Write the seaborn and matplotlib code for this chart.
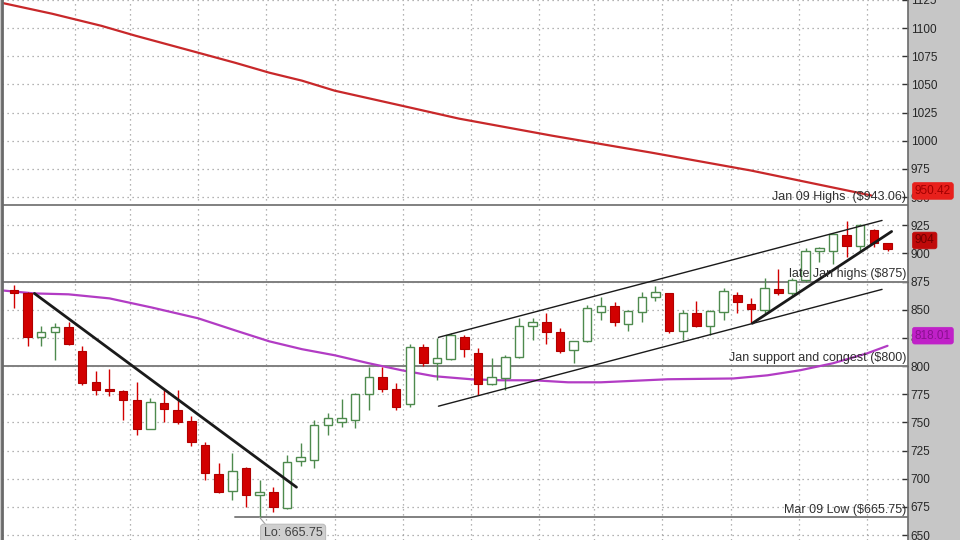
import numpy as np
import pandas as pd
import matplotlib
matplotlib.use("Agg")
import matplotlib.pyplot as plt
import seaborn as sns

# daily candles
opens = [867.2, 864.5, 825.5, 830, 834.5, 813, 785.5, 779.5, 777.5, 769.5,
         744, 767, 761, 751, 730, 704, 689, 709.5, 685.5, 688,
         674, 715.5, 716.5, 747.5, 750, 752.5, 775, 790, 779.5, 766,
         816.5, 802.5, 806, 825.5, 812, 784, 789, 808, 835.5, 839,
         830, 814, 822, 848, 853, 837, 848, 861, 864.5, 831,
         847, 835.5, 848, 863, 855, 849.5, 868, 864.5, 876, 902,
         902.5, 916, 907, 920.5, 909]
highs = [871.6, 866, 836, 838, 839.5, 817.5, 796, 797, 779, 785.5,
         772, 778.5, 778.5, 755.5, 732.5, 714, 722.5, 710, 699, 692.5,
         721, 731.5, 752, 758, 771, 776, 799, 799, 785, 820,
         819.5, 824.5, 829, 827.5, 816, 807, 809.5, 842.5, 842.5, 847.5,
         833.5, 822, 854, 861, 856.5, 849.5, 865.5, 871.5, 864.5, 849.5,
         858, 849.5, 869, 865.5, 860, 878.5, 886.5, 878, 904.5, 905.5,
         918, 929, 926.5, 922, 909.5]
lows = [852, 818, 818, 805, 818.5, 783, 774, 773, 752, 738.5,
        744, 750, 749, 729, 699, 687, 681, 675, 665.75, 670.5,
        673, 711, 709.5, 739, 745.5, 745, 761, 777, 761, 763.5,
        800, 787.5, 805, 808, 774, 783, 778.5, 807, 823, 820,
        811.5, 802.5, 821, 840.5, 836, 831.5, 839, 858, 829, 823,
        834.5, 827.5, 840.5, 847, 838, 847.5, 863.5, 863, 874.5, 892,
        891, 896.5, 901, 905.5, 902.5]
closes = [864.5, 825.5, 830, 834.5, 819.5, 785, 778.5, 777.5, 769.5, 744,
          768, 761.5, 750, 732.5, 705, 688, 706.5, 685.5, 688, 675,
          714.5, 719, 747.5, 753.5, 754, 775, 790, 779.5, 763.5, 816.5,
          802.5, 807, 827.5, 815, 784, 790, 808.5, 835.5, 839.5, 830,
          813, 822, 852, 853, 839.5, 848.5, 861, 865.5, 831.5, 847.5,
          835.5, 848.5, 866.5, 856.5, 850.5, 869, 864.5, 876, 902.5, 904.5,
          917, 907, 925, 909, 904]

# moving averages, read at a few bar positions
ma_slow_x = [-0.9, 2.8, 6.4, 8.9, 13.5, 16.2, 18.7, 21.1, 23.5, 28.4,
             32.6, 39.4, 46.7, 54.0, 62.8]
ma_slow_y = [1122.5, 1112.8, 1102.1, 1093.3, 1078.2, 1069.3, 1060.5, 1053.4,
             1044.5, 1031.2, 1019.7, 1004.6, 989.5, 973.6, 951.5]
ma_fast_x = [-0.9, 1.5, 4.0, 7.0, 10.1, 13.5, 16.2, 18.7, 21.1, 23.5, 26.0,
             28.4, 30.8, 33.5, 35.7, 38.1, 40.6, 43.0, 47.9, 52.7, 55.2,
             57.6, 60.0, 62.5, 64.0]
ma_fast_y = [867.2, 864.5, 863.7, 860.1, 852, 842.4, 831.7, 822, 815, 809.6,
             802.5, 796.3, 791, 788.3, 787.4, 787.4, 785.6, 785.6, 788.3, 789,
             791.8, 796.3, 802.5, 811.3, 818.0]

# drawn trend lines: (bar, price) pairs
trend_down = [(1.5, 864.5), (20.7, 692.5)]
chan_upper = [(31.1, 825.5), (63.6, 929.3)]
chan_lower = [(31.1, 764.4), (63.6, 868.1)]
trend_up = [(54.1, 838.0), (64.3, 919.5)]

levels = [943.06, 875, 800, 665.75]
level_labels = ["Jan 09 Highs  ($943.06)", "late Jan highs ($875)",
                "Jan support and congest ($800)", "Mar 09 Low ($665.75)"]
week_breaks = [4.5, 8.5, 13.5, 18.5, 23.5, 28.5, 33.5, 38.5, 42.5, 47.5,
               52.5, 57.5, 62.5]
price_ticks = list(range(650, 1126, 25))

sns.set_style("white")
plt.rcParams['font.family'] = ['Liberation Sans', 'DejaVu Sans']

df = pd.DataFrame({"o": opens, "h": highs, "l": lows, "c": closes})
df["i"] = np.arange(len(df))
up = df[df.c >= df.o]
dn = df[df.c < df.o]

fig = plt.figure(figsize=(9.6, 5.4), dpi=100, facecolor="#c6c6c6")
ax = fig.add_axes([0.002, 0.0, 908 / 960 - 0.002, 1.0])
ax.set_facecolor("white")

ax.set_xlim(-0.88, 65.5)
ax.set_ylim(645.6, 1125)

# grid
for v in price_ticks:
    ax.axhline(v, color="#9a9a9a", lw=0.9, ls=(0, (1, 3)), zorder=0)
for w in week_breaks:
    ax.axvline(w, color="#9a9a9a", lw=0.9, ls=(0, (1, 3)), zorder=0)

# level lines
for lv in levels[:3]:
    ax.axhline(lv, color="#808080", lw=1.4, zorder=1)
ax.plot([16.2, 65.5], [levels[3], levels[3]], color="#808080", lw=1.4, zorder=1)

# moving averages
sns.lineplot(x=ma_slow_x, y=ma_slow_y, ax=ax, color="#c8282a", lw=1.6,
             sort=False, estimator=None, zorder=2)
sns.lineplot(x=ma_fast_x, y=ma_fast_y, ax=ax, color="#b23cc4", lw=1.6,
             sort=False, estimator=None, zorder=2)

# candles
bw = 0.62
green = "#4e8a4e"
red = "#d20000"
ax.vlines(up.i, up.l, up.h, color=green, lw=1.0, zorder=3)
ax.bar(up.i, up.c - up.o, bottom=up.o, width=bw, facecolor="white",
       edgecolor=green, lw=1.0, zorder=4)
ax.vlines(dn.i, dn.l, dn.h, color=red, lw=1.0, zorder=3)
ax.bar(dn.i, dn.o - dn.c, bottom=dn.c, width=bw, facecolor=red,
       edgecolor="#b00000", lw=0.8, zorder=4)

# trend lines
for seg, lw in [(trend_down, 2.0), (trend_up, 2.0), (chan_upper, 1.0), (chan_lower, 1.0)]:
    xs, ys = zip(*seg)
    ax.plot(xs, ys, color="#1a1a1a", lw=lw, zorder=5)

# level annotations
offs = [1.5, 1.5, 1.5, 1.5]
for lv, txt, o in zip(levels, level_labels, offs):
    ax.text(65.35, lv + o, txt, ha="right", va="bottom", fontsize=9,
            color="#303030", zorder=6)

ax.text(18.3, 651.5, "Lo: 665.75", ha="left", va="center", fontsize=9,
        color="#404040", zorder=7,
        bbox=dict(boxstyle="round,pad=0.25", fc="#cfcfcf", ec="#bdbdbd", lw=0.8))
ax.plot([18.0, 18.6], [665.75, 657], color="#a0a0a0", lw=0.8, zorder=6)

# right price axis
ax.yaxis.tick_right()
ax.set_yticks(price_ticks)
ax.set_yticklabels([str(t) for t in price_ticks])
ax.tick_params(axis="y", direction="in", length=4, width=1, color="#333333",
               labelsize=8.5, labelcolor="#262626", pad=2)
ax.set_xticks([])
for s in ["top", "bottom"]:
    ax.spines[s].set_visible(False)
ax.spines["left"].set_color("#6a6a6a")
ax.spines["left"].set_linewidth(2)
ax.spines["right"].set_color("#6a6a6a")
ax.spines["right"].set_linewidth(1.2)

# last-value tags
tags = [(955.5, "950.42", "#e8201c", "#a00000"),
        (911.5, "904", "#c00a0a", "#700000"),
        (827.0, "818.01", "#c020c8", "#8a1090")]
for v, txt, fc, tc in tags:
    ax.text(66.0, v, txt, ha="left", va="center", fontsize=8.5, color=tc,
            zorder=8, clip_on=False,
            bbox=dict(boxstyle="round,pad=0.2", fc=fc, ec=fc, lw=0.5))

fig.savefig("out.png", dpi=100, facecolor=fig.get_facecolor())
